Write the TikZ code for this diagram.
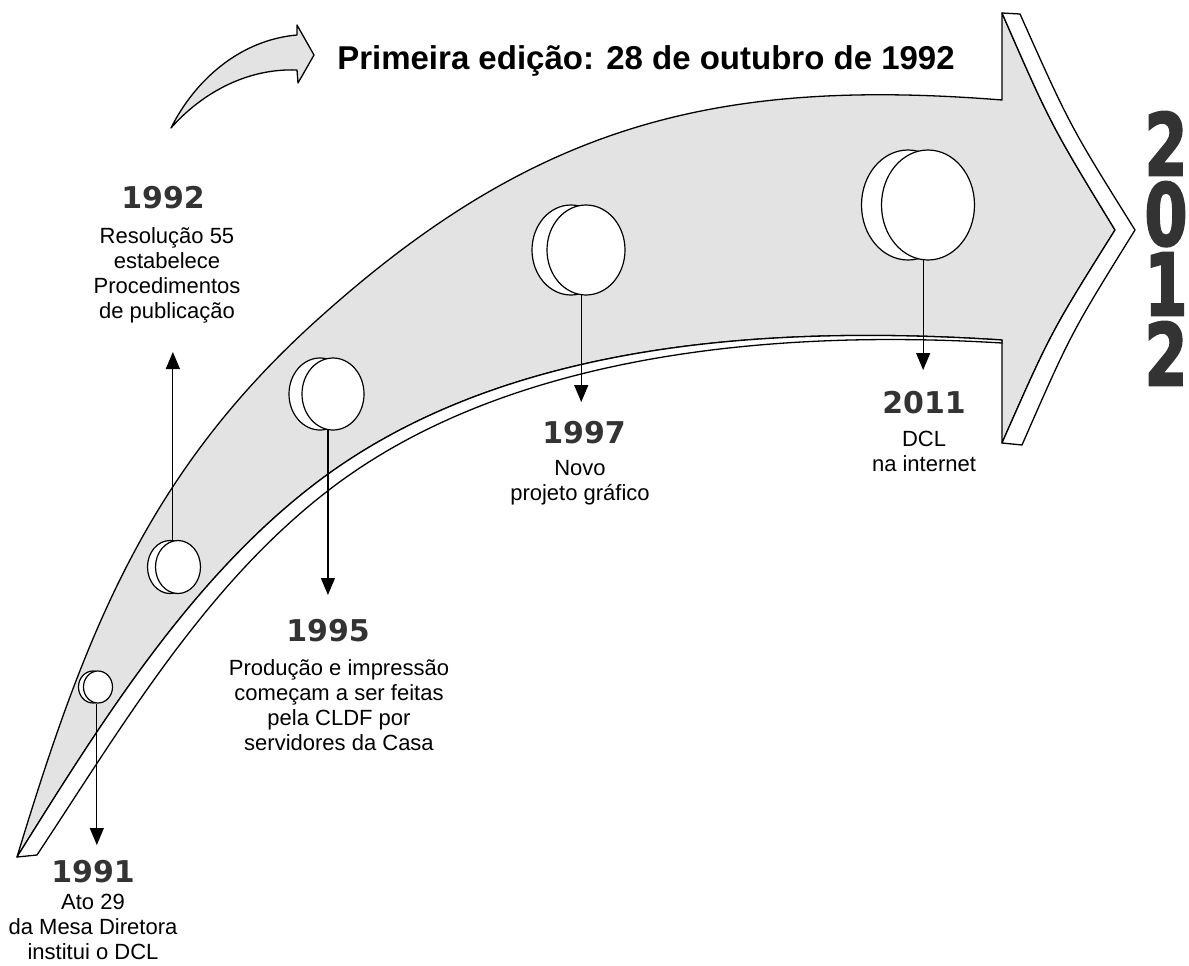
\documentclass[tikz,border=0pt]{standalone}
\usepackage{fontspec}
\setmainfont{Liberation Sans}
\newfontfamily\yearfont{DejaVu Sans}
\newfontfamily\heavyfont{DejaVu Sans}[BoldFeatures={FakeBold=2.5}]
\usetikzlibrary{arrows.meta,positioning,shapes.geometric}
\definecolor{band}{gray}{0.89}
\definecolor{ink}{gray}{0.2}
\newcommand{\narrow}[1]{\scalebox{0.72}[1]{#1}}

\tikzset{
	outline/.style={draw=black,line width=1.3pt,line join=round},
	disc/.style 2 args={ellipse,draw=black,fill=white,line width=1.2pt,inner sep=0pt,minimum width=#1,minimum height=#2},
	stem/.style={line width=1.2pt,-{Triangle[length=17pt,width=14pt]}},
	year/.style={font=\yearfont\bfseries\fontsize{30}{30}\selectfont,text=ink,inner sep=0pt},
	bigyear/.style={font=\heavyfont\bfseries\fontsize{86}{70}\selectfont,text=ink,align=center,inner sep=0pt},
	caption/.style={font=\fontsize{22}{25}\selectfont,align=center,inner sep=0pt},
}

\begin{document}
\begin{tikzpicture}[x=1pt,y=-1pt]
			\useasboundingbox (0,0) rectangle (1189,966);
			
			% grey face of the big arrow
			\path[outline,fill=band] (17,857) .. controls (84,637) and (146,474) .. (317,320) .. controls (532,126) and (713,77) .. (1002,100)
				-- (1002,13) .. controls (1051,125) .. (1115,230) .. controls (1051,332) .. (1002,443) -- (1002,340)
				.. controls (770,325) and (506,341) .. (320,480) .. controls (192,576) and (102,721) .. (17,857) -- cycle;
			% under side and head side
			\path[outline,fill=white] (17,857) .. controls (102,721) and (192,576) .. (320,480) .. controls (506,341) and (770,325) .. (1002,340)
				-- (1002,343) .. controls (772,329) and (499,353) .. (320,497) .. controls (201,592) and (121,728) .. (37,855) -- cycle;
			\path[outline,fill=white] (1002,13) -- (1020,14) .. controls (1070,126) .. (1135,230) .. controls (1071,333) .. (1022,445) -- (1002,443)
				.. controls (1051,332) .. (1115,230) .. controls (1051,125) .. (1002,13) -- cycle;
			
			% small arrow
			\path[outline,fill=band] (171,128) .. controls (195,80) and (240,40) .. (297,35)
				-- (297,25) -- (314,55) -- (298,83) -- (297,70)
				.. controls (245,68) and (200,95) .. (171,128) -- cycle;
			
			\node[font=\bfseries\fontsize{33}{38}\selectfont,inner sep=0pt,anchor=base] (head) at (646,70) {Primeira edição: 28 de outubro de 1992};
			\node[bigyear] (y12) at (1166,248.5) {\narrow{2}\\\narrow{0}\\\narrow{1}\\\narrow{2}};
			
			\node[disc={29pt}{32pt}] (b91) at (93,687) {};
			\node[disc={29pt}{32pt}] (c91) at (98,687) {};
			\node[disc={45pt}{53pt}] (b92) at (170,567) {};
			\node[disc={45pt}{53pt}] (c92) at (178,567) {};
			\node[disc={62pt}{72pt}] (b95) at (320,394) {};
			\node[disc={62pt}{72pt}] (c95) at (333,394) {};
			\node[disc={78pt}{90pt}] (b97) at (571,250) {};
			\node[disc={78pt}{90pt}] (c97) at (586,250) {};
			\node[disc={93pt}{110pt}] (b11) at (908,205) {};
			\node[disc={93pt}{110pt}] (c11) at (928,205) {};
			
			\coordinate (a91) at (97,845);
			\coordinate (a92) at (172,352);
			\coordinate (a95) at (328,595);
			\coordinate (a97) at (581,402);
			\coordinate (a11) at (923,370);
			\draw[stem] (c91.266) -- (c91.266 |- a91);
			\draw[stem] (c92.101) -- (c92.101 |- a92);
			\draw[stem] (c95.262) -- (c95.262 |- a95);
			\draw[stem] (c97.264) -- (c97.264 |- a97);
			\draw[stem] (c11.265) -- (c11.265 |- a11);
			
			\node[year] (y91) at (93,872) {1991};
			\node[caption,below=10pt of y91] (t91) {Ato 29\\da Mesa Diretora\\institui o DCL};
			\node[year] (y92) at (163,198) {1992};
			\node[caption,below=18pt of y92,xshift=4pt] (t92) {Resolução 55\\estabelece\\Procedimentos\\de publicação};
			\node[year] (y95) at (328,631) {1995};
			\node[caption,below=17pt of y95,xshift=11pt] (t95) {Produção e impressão\\começam a ser feitas\\pela CLDF por\\servidores da Casa};
			\node[year] (y97) at (584,433) {1997};
			\node[caption,below=16pt of y97,xshift=-4pt] (t97) {Novo\\projeto gráfico};
			\node[year] (y11) at (924,403) {2011};
			\node[caption,below=16pt of y11] (t11) {DCL\\na internet};
		\end{tikzpicture}
\end{document}
